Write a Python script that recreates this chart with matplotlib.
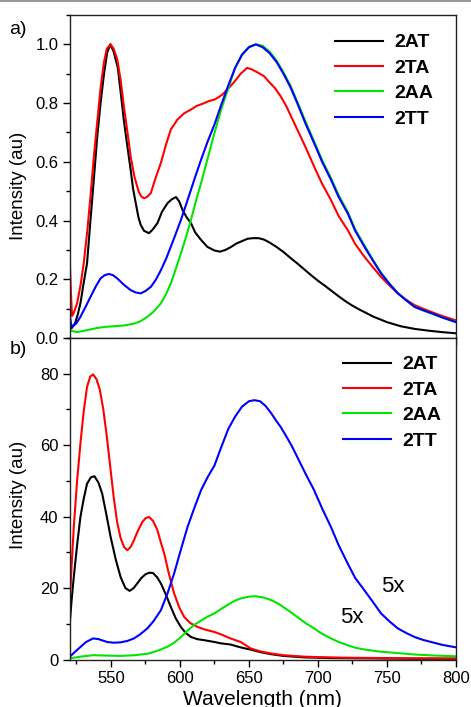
import matplotlib
matplotlib.use("Agg")
import matplotlib.pyplot as plt
from matplotlib.lines import Line2D
from matplotlib.ticker import MultipleLocator, FormatStrFormatter

# ---- panel a) normalised spectra ----
wl_a_2at = [520, 521.5, 524, 526, 528, 530, 532.7, 535, 537.6, 540, 542.5, 545, 547.3, 549.5,
            552, 555, 557, 559.4, 562, 564.3, 566, 568, 570, 571.6, 574, 577.6, 580, 583.7, 587,
            591, 594, 597.1, 599.5, 601.9, 605, 608, 611, 615.3, 620, 625, 629, 633, 637, 641,
            645, 649, 653, 657, 661, 665, 670, 675, 680, 685, 690, 695, 700, 705, 710, 715, 720,
            725, 730, 740, 750, 760, 770, 780, 790, 800]
int_a_2at = [0.05, 0.033, 0.05, 0.08, 0.12, 0.18, 0.254, 0.39, 0.539, 0.68, 0.80, 0.90, 0.972, 1.0,
             0.975, 0.92, 0.84, 0.74, 0.65, 0.573, 0.51, 0.459, 0.41, 0.385, 0.365, 0.357, 0.368,
             0.391, 0.43, 0.459, 0.472, 0.48, 0.465, 0.436, 0.41, 0.391, 0.36, 0.334, 0.31, 0.298,
             0.294, 0.30, 0.31, 0.322, 0.33, 0.338, 0.34, 0.34, 0.335, 0.325, 0.31, 0.293, 0.273,
             0.254, 0.234, 0.214, 0.195, 0.178, 0.16, 0.142, 0.125, 0.11, 0.097, 0.073, 0.054,
             0.04, 0.031, 0.025, 0.02, 0.016]

wl_a_2ta = [520, 521, 521.8, 523, 525.5, 528, 530.3, 533, 535.2, 537.5, 540, 542.5, 544.9, 547,
            549.8, 552, 554.6, 557, 559.4, 562, 564.3, 567, 570, 572, 574, 576, 578.9, 582, 586.2,
            590, 593.4, 598.2, 603, 608, 612, 617.7, 621, 625, 628, 631, 635, 639, 644, 648.7,
            652, 656, 660.8, 665, 669, 673, 677, 681, 685, 691, 697.2, 703, 709.4, 715, 721.5,
            727, 733.6, 740, 745.7, 752, 757.9, 764, 770, 776, 782, 790, 800]
int_a_2ta = [0.29, 0.16, 0.075, 0.085, 0.118, 0.18, 0.254, 0.37, 0.482, 0.61, 0.732, 0.85, 0.937,
             0.985, 1.0, 0.985, 0.949, 0.88, 0.789, 0.70, 0.618, 0.55, 0.50, 0.482, 0.476, 0.48,
             0.493, 0.54, 0.596, 0.66, 0.71, 0.744, 0.765, 0.778, 0.79, 0.80, 0.807, 0.812, 0.82,
             0.83, 0.85, 0.87, 0.90, 0.92, 0.915, 0.905, 0.892, 0.87, 0.85, 0.823, 0.79, 0.75,
             0.71, 0.65, 0.584, 0.525, 0.47, 0.415, 0.368, 0.32, 0.277, 0.24, 0.208, 0.178, 0.152,
             0.13, 0.112, 0.10, 0.089, 0.075, 0.06]

wl_a_2aa = [520, 525.5, 533, 540, 546, 552.2, 560, 566.7, 571, 576.4, 581, 586.2, 590, 593.4, 597,
            600.7, 604.5, 608, 611.5, 615.3, 620, 625, 630, 635, 640, 645, 650, 655, 660, 665,
            670, 675, 680, 685, 691, 697.2, 703, 709.4, 715, 721.5, 727, 733.6, 740, 745.7, 752,
            757.9, 764, 770, 776, 782, 790, 800]
int_a_2aa = [0.026, 0.02, 0.027, 0.034, 0.038, 0.04, 0.043, 0.049, 0.056, 0.072, 0.09, 0.118, 0.15,
             0.186, 0.235, 0.288, 0.345, 0.402, 0.465, 0.527, 0.61, 0.698, 0.78, 0.85, 0.92,
             0.965, 0.992, 1.0, 0.995, 0.975, 0.945, 0.905, 0.86, 0.805, 0.737, 0.67, 0.606,
             0.545, 0.486, 0.43, 0.37, 0.316, 0.265, 0.222, 0.184, 0.153, 0.128, 0.106, 0.094,
             0.084, 0.07, 0.055]

wl_a_2tt = [520, 521, 522, 525, 527.9, 531, 535.2, 539, 542.5, 545.5, 548.5, 551.5, 554.6, 559,
            564.3, 568, 571.6, 575, 578.9, 582.5, 586.2, 590, 593.4, 597, 600.7, 604.5, 608,
            611.5, 615.3, 620, 625, 630, 635, 640, 645, 650, 655, 660, 665, 670, 675, 680, 685,
            691, 697.2, 703, 709.4, 715, 721.5, 727, 733.6, 740, 745.7, 752, 757.9, 764, 770,
            776, 782, 790, 800]
int_a_2tt = [0.09, 0.05, 0.038, 0.05, 0.072, 0.10, 0.14, 0.175, 0.203, 0.214, 0.218, 0.214, 0.203,
             0.183, 0.163, 0.155, 0.152, 0.16, 0.174, 0.198, 0.231, 0.27, 0.311, 0.355, 0.402,
             0.455, 0.505, 0.555, 0.607, 0.668, 0.727, 0.795, 0.86, 0.92, 0.965, 0.99, 1.0, 0.99,
             0.97, 0.94, 0.90, 0.855, 0.80, 0.73, 0.664, 0.60, 0.539, 0.48, 0.425, 0.365, 0.311,
             0.262, 0.22, 0.183, 0.152, 0.128, 0.106, 0.095, 0.085, 0.07, 0.054]

# ---- panel b) absolute spectra (2AA and 2TT multiplied by 5) ----
wl_b_2at = [520, 521.5, 523.1, 525.5, 527.9, 530.3, 532.7, 535.5, 538.1, 541, 543.7, 546.5, 549.8,
            553.5, 557, 560.5, 563.6, 566.5, 569.1, 572, 575.2, 578, 580.5, 583.5, 586.2, 590,
            593.4, 597, 600.7, 604, 608, 612.5, 617.7, 625, 630, 636.6, 642, 646, 651, 658, 665.7,
            675, 690, 710, 740, 770, 800]
int_b_2at = [9.1, 16.5, 23.1, 32, 39.9, 45, 49.2, 51, 51.3, 49.5, 46.4, 41, 34.3, 28, 23.1, 20,
             19.2, 20, 21.3, 22.8, 23.9, 24.3, 24.2, 23, 21.3, 18, 14.7, 11.5, 9.1, 7.5, 6.3, 5.7,
             5.4, 4.9, 4.5, 4.2, 3.6, 3.2, 2.8, 2.1, 1.5, 1.0, 0.6, 0.4, 0.3, 0.2, 0.2]

wl_b_2ta = [520, 521.5, 523.1, 525.5, 527.9, 530.3, 532.7, 535, 537.1, 539.5, 542, 544.5, 547,
            549.5, 552, 554.5, 557, 559.5, 561.9, 564.3, 566.7, 569.5, 572.8, 575.2, 577.6, 580.5,
            583.7, 586, 588.6, 592, 595.8, 599.5, 603.1, 607.5, 612.8, 618, 625, 630, 636.6, 644,
            651.2, 658, 665.7, 675, 690, 697, 720, 750, 800]
int_b_2ta = [14.7, 26, 37.1, 50, 60.4, 69.5, 76.3, 79.2, 79.8, 78.5, 75.5, 70, 62.5, 54, 45.5, 38.5,
             34, 31.5, 30.6, 31.5, 33.4, 36, 38.5, 39.6, 39.9, 38.8, 36.2, 33, 29.7, 24, 18.5,
             14.6, 11.9, 10.2, 9.1, 8.4, 7.7, 7, 5.9, 4.9, 3.1, 2.3, 1.7, 1.2, 0.8, 0.7, 0.5, 0.4,
             0.3]

wl_b_2aa = [520, 528, 537, 547, 557, 567, 576.4, 581, 586.2, 591, 595.8, 600.5, 605.5, 610,
            615.3, 620, 625, 630, 635, 640, 645, 650, 655, 660, 665, 670, 673, 679, 685, 691,
            697.2, 703, 709.4, 715, 721.5, 727, 733.6, 745, 757.9, 770, 785, 800]
int_b_2aa = [0.3, 0.8, 1.2, 1.1, 1.0, 1.2, 1.6, 2.1, 2.8, 3.6, 4.7, 6.2, 8.1, 9.6, 10.9, 12, 12.9,
             14.2, 15.4, 16.5, 17.2, 17.6, 17.7, 17.4, 16.8, 15.9, 15.2, 13.6, 11.9, 10.2, 8.7,
             7.2, 5.9, 4.9, 4.0, 3.3, 2.8, 2.2, 1.8, 1.4, 1.1, 0.9]

wl_b_2tt = [520, 523, 527.9, 532, 537.1, 541, 547.3, 552, 557, 562, 566.7, 571, 576.4, 581, 586.2,
            591, 595.8, 600.5, 605.5, 610.5, 615.3, 620, 625, 630, 635, 640, 645, 650, 654, 658,
            662, 666, 670, 673, 677, 681, 685, 691, 697.2, 703, 709.4, 715, 721.5, 727, 733.6,
            740, 745.7, 752, 757.9, 764, 770, 776, 782, 790, 800]
int_b_2tt = [0.7, 1.8, 3.5, 4.9, 5.9, 5.7, 4.9, 4.7, 4.8, 5.2, 5.9, 7, 8.7, 10.8, 13.8, 18.5, 24.1,
             30.5, 37.1, 42.5, 47.4, 51, 54.3, 59.5, 64.5, 68, 70.8, 72.3, 72.6, 72.3, 71, 69,
             66.7, 65.1, 62.5, 59.8, 56.7, 52, 47.4, 42.3, 37.1, 32, 26.9, 22.8, 19.4, 16, 12.9,
             10.6, 8.7, 7.4, 6.3, 5.5, 4.9, 4.1, 3.4]

labels = ['2AT', '2TA', '2AA', '2TT']
colors = ['#000000', '#ff0000', '#00e600', '#0000ff']

plt.rcParams['font.family'] = ['Liberation Sans', 'DejaVu Sans']

W, H = 471, 707
fig = plt.figure(figsize=(W / 100, H / 100), dpi=100)

left, right = 69.5 / W, 456 / W
ax_a = fig.add_axes([left, 1 - 338 / H, right - left, (338 - 15) / H])
ax_b = fig.add_axes([left, 1 - 659.5 / H, right - left, (659.5 - 338) / H])

series_a = [(wl_a_2at, int_a_2at), (wl_a_2ta, int_a_2ta), (wl_a_2aa, int_a_2aa), (wl_a_2tt, int_a_2tt)]
series_b = [(wl_b_2at, int_b_2at), (wl_b_2ta, int_b_2ta), (wl_b_2aa, int_b_2aa), (wl_b_2tt, int_b_2tt)]

for ax, series in ((ax_a, series_a), (ax_b, series_b)):
    for (x, y), lab, col in zip(series, labels, colors):
        ax.plot(x, y, color=col, lw=1.5, label=lab)
    ax.set_xlim(520, 800)
    ax.xaxis.set_major_locator(MultipleLocator(50))
    ax.xaxis.set_minor_locator(MultipleLocator(25))
    ax.tick_params(which='major', direction='out', length=5, width=1, labelsize=12, pad=3)
    ax.tick_params(which='minor', direction='out', length=3, width=1)
    for sp in ax.spines.values():
        sp.set_linewidth(1.0)
        sp.set_color('#222222')

ax_a.set_ylim(0, 1.1)
ax_a.yaxis.set_major_locator(MultipleLocator(0.2))
ax_a.yaxis.set_minor_locator(MultipleLocator(0.1))
ax_a.yaxis.set_major_formatter(FormatStrFormatter('%.1f'))
ax_a.tick_params(axis='x', labelbottom=False)

ax_b.set_ylim(0, 90)
ax_b.yaxis.set_major_locator(MultipleLocator(20))
ax_b.yaxis.set_minor_locator(MultipleLocator(10))

leg_kw = dict(frameon=False, prop={'weight': 'bold', 'size': 14}, handlelength=2.5,
              handletextpad=0.55, labelspacing=0.4, borderaxespad=0)
ax_a.legend(loc='upper left', bbox_to_anchor=(327 / W, 1 - 26 / H),
            bbox_transform=fig.transFigure, **leg_kw)
ax_b.legend(loc='upper left', bbox_to_anchor=(335 / W, 1 - 348 / H),
            bbox_transform=fig.transFigure, **leg_kw)

ax_b.text(754.5, 20.5, '5x', fontsize=16, ha='center', va='center')
ax_b.text(724.4, 11.8, '5x', fontsize=16, ha='center', va='center')

fig.text(18 / W, 1 - 29 / H, 'a)', fontsize=14, ha='center', va='center')
fig.text(18 / W, 1 - 350 / H, 'b)', fontsize=14, ha='center', va='center')
fig.text(19 / W, 1 - 186 / H, 'Intensity (au)', fontsize=13.5, rotation=90,
         ha='center', va='center')
fig.text(19 / W, 1 - 495 / H, 'Intensity (au)', fontsize=13.5, rotation=90,
         ha='center', va='center')
fig.text(262 / W, 1 - 705 / H, 'Wavelength (nm)', fontsize=15, ha='center', va='baseline')

fig.add_artist(Line2D([0, 1], [1 - 0.5 / H, 1 - 0.5 / H], color='#999999', lw=1.5,
                      transform=fig.transFigure))

fig.savefig('out.png', dpi=100)
